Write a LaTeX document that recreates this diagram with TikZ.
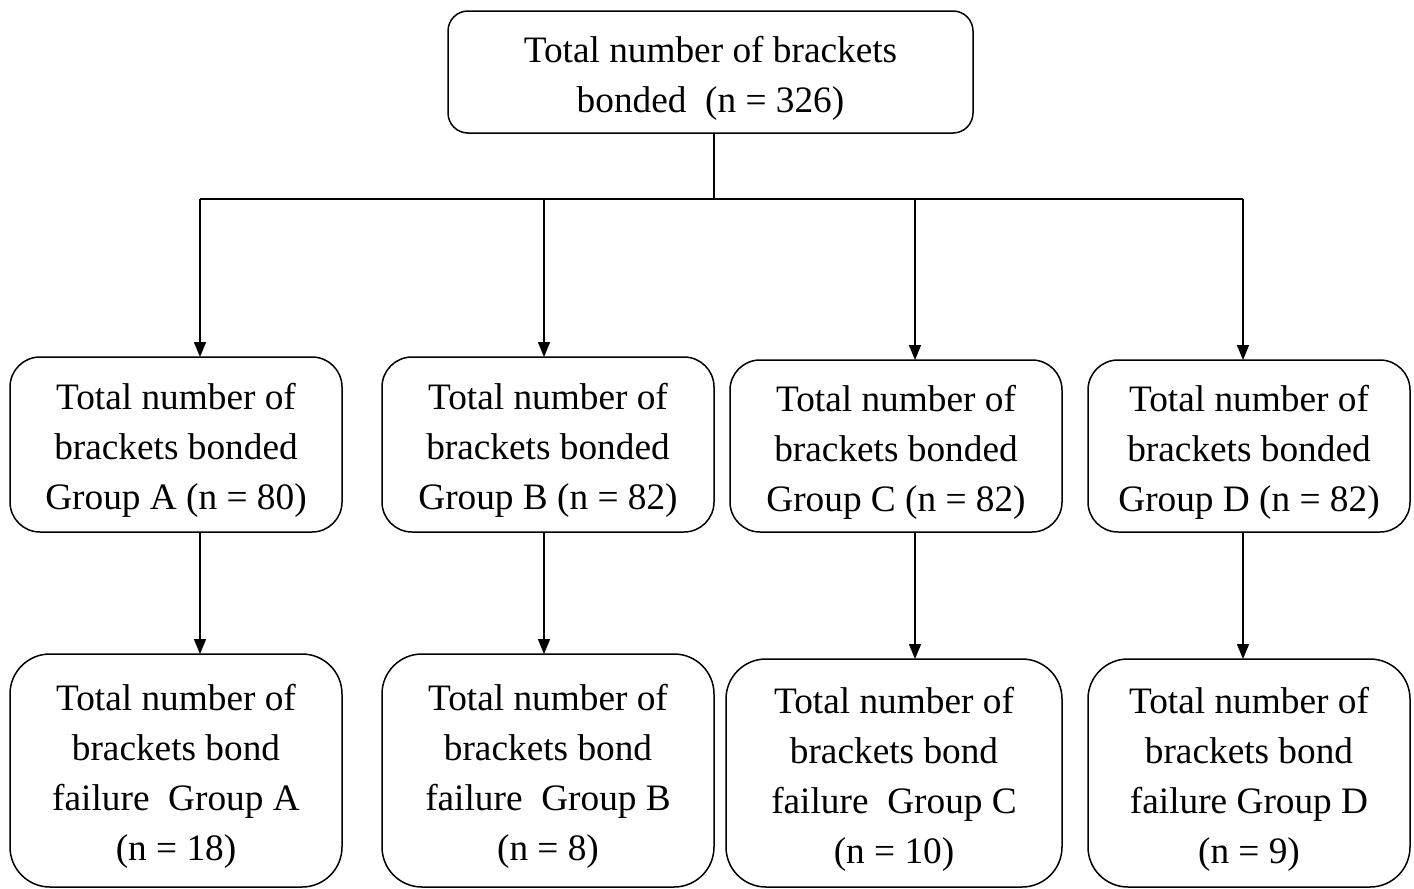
\documentclass[tikz,border=0pt]{standalone}
\usepackage{fontspec}
\setmainfont{Liberation Serif}
\usepackage{tikz}
\usetikzlibrary{arrows.meta}

\newcommand{\topstrut}{\rule{0pt}{38pt}}

\tikzset{
  box/.style={draw=black, rounded corners=30pt, align=center, inner sep=0pt, outer sep=0pt,
    font=\fontsize{37.3}{50}\selectfont},
  flow/.style={-{Triangle[length=15pt, width=12pt]}}
}

\begin{document}
\begin{tikzpicture}[x=1pt, y=-1pt, line width=1.5pt]
    \useasboundingbox (0, 0) rectangle (1414, 889);

    % draw top box
    \node[box, rounded corners=20pt, minimum width=525pt, minimum height=122pt] (top) at (710.5, 72)
      {\topstrut Total number of brackets\\bonded \ (n = 326)};

    % draw group boxes
    \node[box, minimum width=332pt, minimum height=175pt] (ga) at (176, 444.5)
      {\topstrut Total number of\\brackets bonded\\Group A (n = 80)};
    \node[box, minimum width=332pt, minimum height=175pt] (gb) at (548, 444.5)
      {\topstrut Total number of\\brackets bonded\\Group B (n = 82)};
    \node[box, minimum width=332pt, minimum height=172pt] (gc) at (896, 446)
      {\topstrut Total number of\\brackets bonded\\Group C (n = 82)};
    \node[box, minimum width=322pt, minimum height=172pt] (gd) at (1249, 446)
      {\topstrut Total number of\\brackets bonded\\Group D (n = 82)};

    % draw failure boxes
    \node[box, rounded corners=40pt, minimum width=332pt, minimum height=233pt] (fa) at (176, 770.5)
      {\topstrut Total number of\\brackets bond\\failure \ Group A\\(n = 18)};
    \node[box, rounded corners=40pt, minimum width=332pt, minimum height=233pt] (fb) at (548, 770.5)
      {\topstrut Total number of\\brackets bond\\failure \ Group B\\(n = 8)};
    \node[box, rounded corners=40pt, minimum width=336pt, minimum height=228pt] (fc) at (894, 773)
      {\topstrut Total number of\\brackets bond\\failure \ Group C\\(n = 10)};
    \node[box, rounded corners=40pt, minimum width=322pt, minimum height=228pt] (fd) at (1249, 773)
      {\topstrut Total number of\\brackets bond\\failure Group D\\(n = 9)};

    % draw junction line
    \coordinate (jt) at (714, 199);
    \coordinate (ja) at (200, 199);
    \coordinate (jb) at (544, 199);
    \coordinate (jc) at (915, 199);
    \coordinate (jd) at (1243, 199);
    \draw (jt |- top.south) -- (jt);
    \draw (ja) -- (jd);

    % draw arrows
    \draw[flow] (ja) -- (ja |- ga.north);
    \draw[flow] (jb) -- (jb |- gb.north);
    \draw[flow] (jc) -- (jc |- gc.north);
    \draw[flow] (jd) -- (jd |- gd.north);

    \draw[flow] (ja |- ga.south) -- (ja |- fa.north);
    \draw[flow] (jb |- gb.south) -- (jb |- fb.north);
    \draw[flow] (jc |- gc.south) -- (jc |- fc.north);
    \draw[flow] (jd |- gd.south) -- (jd |- fd.north);

\end{tikzpicture}
\end{document}
